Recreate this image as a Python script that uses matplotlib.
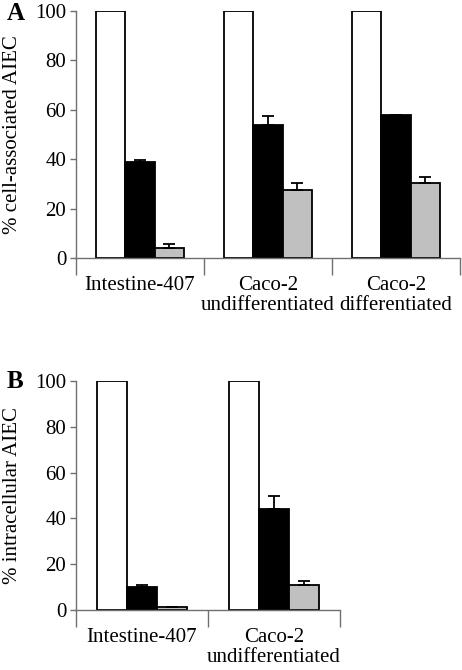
import matplotlib
matplotlib.use("Agg")
import matplotlib.pyplot as plt
import numpy as np

plt.rcParams['font.family'] = ['Liberation Serif', 'DejaVu Serif']

# panel A: cell-associated AIEC
cats_a = ["Intestine-407", "Caco-2\nundifferentiated", "Caco-2\ndifferentiated"]
white_a = [100, 100, 100]
black_a = [38.7, 53.8, 57.8]
black_err_a = [1.0, 3.8, 0.0]
gray_a = [4.2, 27.7, 30.4]
gray_err_a = [1.6, 2.7, 2.4]

# panel B: intracellular AIEC
cats_b = ["Intestine-407", "Caco-2\nundifferentiated"]
white_b = [100, 100]
black_b = [10.2, 44.1]
black_err_b = [0.8, 5.7]
gray_b = [1.5, 10.8]
gray_err_b = [0.0, 1.7]

W, H = 462, 670
fig = plt.figure(figsize=(W / 100, H / 100), dpi=100)

axA = fig.add_axes([76 / W, 1 - 258 / H, 384 / W, 247 / H])
axB = fig.add_axes([76 / W, 1 - 610 / H, 264 / W, 229 / H])

bw = 0.227
axis_col = '#707070'
fs = 15


def draw(ax, cats, white, black, black_err, gray, gray_err, ylabel, width_px):
    x = np.arange(len(cats))
    ax.bar(x - bw, white, bw, color='white', edgecolor='black', lw=1.3, zorder=2)
    ax.bar(x, black, bw, color='black', edgecolor='black', lw=1.3, zorder=2)
    ax.bar(x + bw, gray, bw, color='#c0c0c0', edgecolor='black', lw=1.3, zorder=2)
    ax.errorbar(x, black, yerr=[np.zeros(len(x)), black_err], fmt='none',
                ecolor='black', elinewidth=1.3, capsize=4, capthick=1.3, zorder=3)
    ax.errorbar(x + bw, gray, yerr=[np.zeros(len(x)), gray_err], fmt='none',
                ecolor='black', elinewidth=1.3, capsize=4, capthick=1.3, zorder=3)

    ax.set_xlim(-0.5, len(cats) - 0.5)
    ax.set_ylim(0, 100)
    ax.set_yticks(np.arange(0, 101, 20))
    ax.tick_params(axis='y', direction='out', length=4, width=1, color=axis_col,
                   labelsize=fs, pad=3)

    # group separators as major ticks, labels on minor ticks
    ax.set_xticks(np.arange(len(cats) + 1) - 0.5)
    ax.set_xticklabels([])
    ax.set_xticks(x, minor=True)
    ax.set_xticklabels(cats, minor=True, fontsize=fs, linespacing=1.1)
    ax.tick_params(axis='x', which='major', direction='out', length=12, width=1,
                   color=axis_col)
    ax.tick_params(axis='x', which='minor', length=0, pad=13)

    for s in ['top', 'right']:
        ax.spines[s].set_visible(False)
    for s in ['left', 'bottom']:
        ax.spines[s].set_color(axis_col)
        ax.spines[s].set_linewidth(1)
    ax.set_ylabel(ylabel, fontsize=fs)
    ax.yaxis.set_label_coords(-54 / width_px, 0.5)


draw(axA, cats_a, white_a, black_a, black_err_a, gray_a, gray_err_a,
     "% cell-associated AIEC", 384)
draw(axB, cats_b, white_b, black_b, black_err_b, gray_b, gray_err_b,
     "% intracellular AIEC", 264)

fig.text(7 / W, 1 - 14 / H, "A", fontsize=18, fontweight='bold', va='center')
fig.text(7 / W, 1 - 381 / H, "B", fontsize=18, fontweight='bold', va='center')

fig.savefig("out.png", dpi=100)
